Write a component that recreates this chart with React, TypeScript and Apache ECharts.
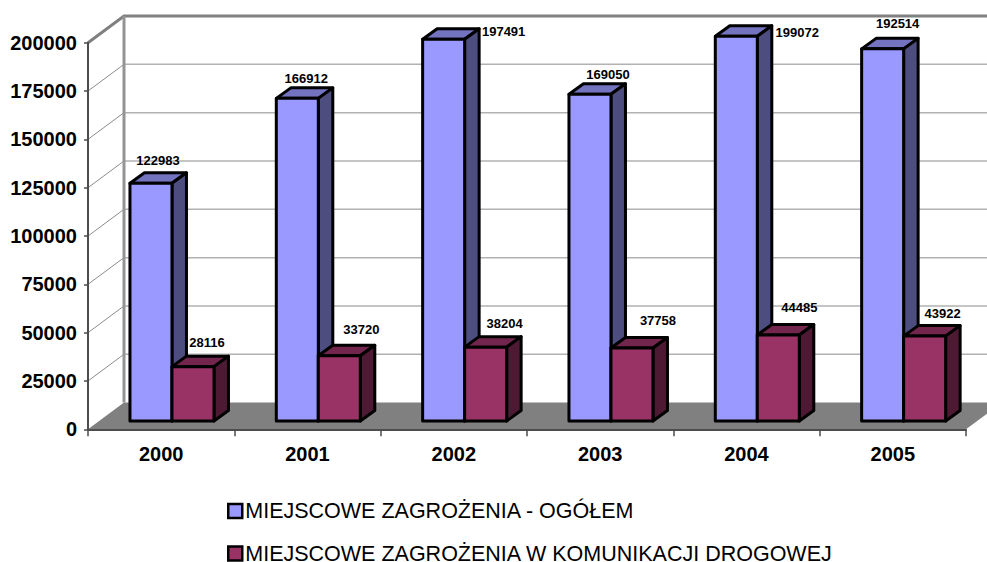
import React, { useEffect, useRef } from "react";
import * as echarts from "echarts";

const years = ["2000", "2001", "2002", "2003", "2004", "2005"];
const totalName = "MIEJSCOWE ZAGROŻENIA - OGÓŁEM";
const roadName = "MIEJSCOWE ZAGROŻENIA W KOMUNIKACJI DROGOWEJ";
const totalValues = [122983, 166912, 197491, 169050, 199072, 192514];
const roadValues = [28116, 33720, 38204, 37758, 44485, 43922];
const yTicks = [25000, 50000, 75000, 100000, 125000, 150000, 175000, 200000];

// Hand placement of the value labels, relative to the centre of the bar's front top edge
const totalLabelNudge = [[7, -23], [9, -20], [60, -8], [18, -20], [61, -4], [15, -25]];
const roadLabelNudge = [[14, -24], [22, -26], [19, -24], [26, -28], [21, -28], [18, -23]];

const FONT = '"Liberation Sans", Arial, sans-serif';
const DEPTH_X = 36;
const DEPTH_Y = 26.7;
const BAR_SHIFT_X = 10.8;
const BAR_SHIFT_Y = 8.3;
const BAR_DX = 14.5;
const BAR_DY = 10.5;
const BAR_W = 42;

function wallsRenderer(_params: any, api: any) {
  const o = api.coord([0, 0]);
  const band = api.size([1, 0])[0];
  const x0 = o[0] - band / 2;
  const y0 = o[1];
  const x1 = x0 + band * years.length;
  const yTop = api.coord([0, 200000])[1];
  const children: any[] = [];
  children.push({
    type: "polygon",
    shape: {
      points: [
        [x0, y0],
        [x0 + DEPTH_X, y0 - DEPTH_Y],
        [x1 + DEPTH_X, y0 - DEPTH_Y],
        [x1, y0],
      ],
    },
    style: { fill: "#808080", stroke: "none" },
  });
  yTicks.slice(0, -1).forEach((t) => {
    const y = api.coord([0, t])[1];
    children.push({
      type: "line",
      shape: { x1: x0, y1: y, x2: x0 + DEPTH_X, y2: y - DEPTH_Y },
      style: { stroke: "#8c8c8c", lineWidth: 1, fill: "none" },
    });
    children.push({
      type: "line",
      shape: { x1: x0 + DEPTH_X, y1: y - DEPTH_Y, x2: x1 + DEPTH_X, y2: y - DEPTH_Y },
      style: { stroke: "#b2b2b2", lineWidth: 1.5, fill: "none" },
    });
  });
  children.push({
    type: "polyline",
    shape: {
      points: [
        [x0, yTop],
        [x0 + DEPTH_X, yTop - DEPTH_Y],
        [x1 + DEPTH_X, yTop - DEPTH_Y],
      ],
    },
    style: { stroke: "#808080", lineWidth: 3, fill: "none" },
  });
  children.push({
    type: "line",
    shape: { x1: x0 + DEPTH_X, y1: yTop - DEPTH_Y, x2: x0 + DEPTH_X, y2: y0 - DEPTH_Y },
    style: { stroke: "#949494", lineWidth: 3, fill: "none" },
  });
  return { type: "group", children };
}

function barRenderer(
  side: -1 | 1,
  colors: { front: string; top: string; right: string },
  nudges: number[][],
) {
  return (params: any, api: any) => {
    const idx = params.dataIndex;
    const value = api.value(1);
    const top = api.coord([idx, value]);
    const base = api.coord([idx, 0]);
    const cx = top[0] + BAR_SHIFT_X;
    const xl = side < 0 ? cx - BAR_W : cx;
    const xr = xl + BAR_W;
    const yt = top[1] - BAR_SHIFT_Y;
    const yb = base[1] - BAR_SHIFT_Y;
    const edge = { stroke: "#000", lineWidth: 3, lineJoin: "round" };
    const nudge = nudges[idx];
    return {
      type: "group",
      children: [
        {
          type: "polygon",
          shape: { points: [[xl, yt], [xl + BAR_DX, yt - BAR_DY], [xr + BAR_DX, yt - BAR_DY], [xr, yt]] },
          style: { fill: colors.top, ...edge },
        },
        {
          type: "polygon",
          shape: { points: [[xr, yt], [xr + BAR_DX, yt - BAR_DY], [xr + BAR_DX, yb - BAR_DY], [xr, yb]] },
          style: { fill: colors.right, ...edge },
        },
        {
          type: "rect",
          shape: { x: xl, y: yt, width: BAR_W, height: yb - yt },
          style: { fill: colors.front, ...edge },
        },
        {
          type: "text",
          style: {
            text: String(value),
            x: (xl + xr) / 2 + nudge[0],
            y: yt + nudge[1],
            align: "center",
            verticalAlign: "middle",
            fill: "#000",
            font: `bold 13px ${FONT}`,
          },
        },
      ],
    };
  };
}

function legendFor(name: string, top: number) {
  return {
    orient: "horizontal",
    left: 222,
    top,
    itemWidth: 14,
    itemHeight: 14,
    icon: "rect",
    data: [name],
    itemStyle: { borderColor: "#000", borderWidth: 2.5 },
    textStyle: { color: "#000", fontFamily: FONT, fontSize: 21.5, padding: [0, 0, 4, -2], lineHeight: 18 },
  };
}

export default function App() {
  const ref = useRef<HTMLDivElement>(null);
  useEffect(() => {
    document.body.style.margin = "0";
    const chart = echarts.init(ref.current!, null, { renderer: "svg" });
    chart.setOption({
      animation: false,
      backgroundColor: "#fff",
      grid: { left: 88, top: 42.7, width: 878, height: 386.6, containLabel: false },
      xAxis: {
        type: "category",
        data: years,
        z: 3,
        axisLine: { show: true, lineStyle: { color: "#4d4d4d", width: 2 } },
        axisTick: { show: true, length: 7, alignWithLabel: false, lineStyle: { color: "#4d4d4d", width: 1.5 } },
        axisLabel: { color: "#000", fontFamily: FONT, fontWeight: "bold", fontSize: 20, margin: 15 },
        splitLine: { show: false },
      },
      yAxis: {
        type: "value",
        min: 0,
        max: 200000,
        interval: 25000,
        z: 3,
        axisLine: { show: true, lineStyle: { color: "#4d4d4d", width: 2 } },
        axisTick: { show: true, length: 4, lineStyle: { color: "#4d4d4d", width: 1.5 } },
        axisLabel: {
          color: "#000",
          fontFamily: FONT,
          fontWeight: "bold",
          fontSize: 20,
          margin: 11,
          padding: [2, 0, 0, 0],
          formatter: (v: number) => String(v),
        },
        splitLine: { show: false },
      },
      legend: [legendFor(totalName, 495), legendFor(roadName, 537.5)],
      series: [
        {
          type: "custom",
          name: "tło",
          z: 1,
          silent: true,
          clip: false,
          renderItem: wallsRenderer,
          data: [[years[0], 0]],
          encode: { x: 0, y: 1 },
        },
        {
          type: "custom",
          name: totalName,
          z: 4,
          clip: false,
          itemStyle: { color: "#9999FF" },
          renderItem: barRenderer(-1, { front: "#9999FF", top: "#7373BF", right: "#4D4D80" }, totalLabelNudge),
          data: totalValues.map((v, i) => [years[i], v]),
          encode: { x: 0, y: 1 },
        },
        {
          type: "custom",
          name: roadName,
          z: 5,
          clip: false,
          itemStyle: { color: "#993366" },
          renderItem: barRenderer(1, { front: "#993366", top: "#73264D", right: "#4D1933" }, roadLabelNudge),
          data: roadValues.map((v, i) => [years[i], v]),
          encode: { x: 0, y: 1 },
        },
      ],
    });
    return () => chart.dispose();
  }, []);
  return <div ref={ref} style={{ position: "absolute", left: 0, top: 0, width: 987, height: 562 }} />;
}
